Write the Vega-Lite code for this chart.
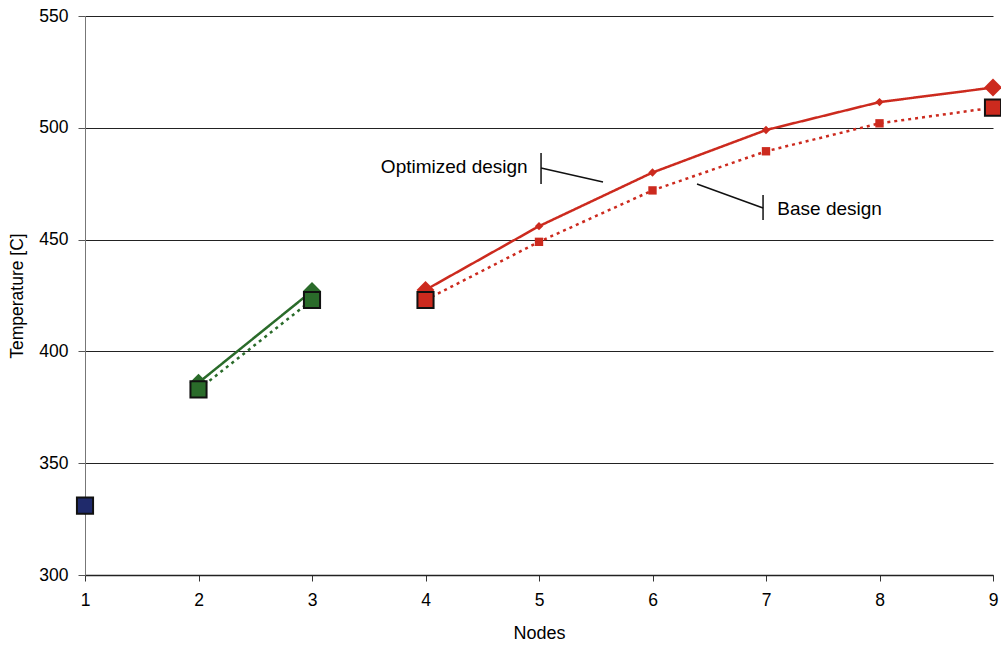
{
  "$schema": "https://vega.github.io/schema/vega-lite/v6.json",
  "autosize": "none",
  "width": 908,
  "height": 559,
  "padding": {"left": 85, "top": 16, "right": 8, "bottom": 79},
  "background": "white",
  "config": {
    "view": {"stroke": null},
    "font": "Liberation Sans",
    "axis": {"labelFont": "Liberation Sans", "titleFont": "Liberation Sans", "labelColor": "#000", "titleColor": "#000", "titleFontWeight": "normal"}
  },
  "datasets": {
    "temps": [
      {"node": 1, "temp": 331, "design": "Optimized", "segment": "A", "end": true},
      {"node": 1, "temp": 331, "design": "Base", "segment": "A", "end": true},
      {"node": 2, "temp": 386, "design": "Optimized", "segment": "B", "end": true},
      {"node": 2, "temp": 383, "design": "Base", "segment": "B", "end": true},
      {"node": 3, "temp": 427, "design": "Optimized", "segment": "B", "end": true},
      {"node": 3, "temp": 423, "design": "Base", "segment": "B", "end": true},
      {"node": 4, "temp": 427.5, "design": "Optimized", "segment": "C", "end": true},
      {"node": 4, "temp": 423, "design": "Base", "segment": "C", "end": true},
      {"node": 5, "temp": 456, "design": "Optimized", "segment": "C", "end": false},
      {"node": 5, "temp": 449, "design": "Base", "segment": "C", "end": false},
      {"node": 6, "temp": 480, "design": "Optimized", "segment": "C", "end": false},
      {"node": 6, "temp": 472, "design": "Base", "segment": "C", "end": false},
      {"node": 7, "temp": 499, "design": "Optimized", "segment": "C", "end": false},
      {"node": 7, "temp": 489.5, "design": "Base", "segment": "C", "end": false},
      {"node": 8, "temp": 511.5, "design": "Optimized", "segment": "C", "end": false},
      {"node": 8, "temp": 502, "design": "Base", "segment": "C", "end": false},
      {"node": 9, "temp": 518, "design": "Optimized", "segment": "C", "end": true},
      {"node": 9, "temp": 509, "design": "Base", "segment": "C", "end": true}
    ],
    "labels": [
      {"x": 4.9, "y": 482.5, "text": "Optimized design", "align": "right"},
      {"x": 7.1, "y": 463.7, "text": "Base design", "align": "left"}
    ],
    "leaders": [
      {"id": "o1", "x": 5.018, "y": 488.7},
      {"id": "o1", "x": 5.018, "y": 474.9},
      {"id": "o2", "x": 5.018, "y": 482},
      {"id": "o2", "x": 5.564, "y": 475.8},
      {"id": "b1", "x": 6.974, "y": 470},
      {"id": "b1", "x": 6.974, "y": 458.8},
      {"id": "b2", "x": 6.392, "y": 474.9},
      {"id": "b2", "x": 6.974, "y": 464.1}
    ]
  },
  "layer": [
    {
      "data": {"name": "temps"},
      "mark": {"type": "line", "strokeWidth": 2.5},
      "encoding": {
        "x": {"field": "node", "type": "quantitative", "scale": {"domain": [1, 9], "nice": false, "zero": false},
          "axis": {"values": [1,2,3,4,5,6,7,8,9], "format": "d", "title": "Nodes", "titleFontSize": 18, "titlePadding": 16, "labelFontSize": 17.5, "labelPadding": 10, "tickSize": 6, "tickColor": "#333", "domainColor": "#222", "domainWidth": 1.5, "grid": false, "labelFlush": false}},
        "y": {"field": "temp", "type": "quantitative", "scale": {"domain": [300, 550], "nice": false, "zero": false},
          "axis": {"values": [300,350,400,450,500,550], "format": "d", "title": "Temperature [C]", "titleFontSize": 17.5, "titlePadding": 12, "labelFontSize": 17.5, "labelPadding": 10, "tickSize": 7, "tickColor": "#555", "domainColor": "#777", "grid": true, "gridColor": "#222", "gridWidth": 1.2, "gridOpacity": 1}},
        "color": {"field": "segment", "type": "nominal", "scale": {"domain": ["A", "B", "C"], "range": ["#1f2a6b", "#2a6b2a", "#cc2a1e"]}, "legend": null},
        "detail": {"field": "segment"},
        "strokeDash": {"field": "design", "type": "nominal", "scale": {"domain": ["Optimized", "Base"], "range": [[1, 0], [3, 4]]}, "legend": null}
      }
    },
    {
      "data": {"name": "temps"},
      "transform": [{"filter": "datum.design == 'Optimized' && !datum.end"}],
      "mark": {"type": "point", "shape": "diamond", "filled": true, "size": 70, "opacity": 1},
      "encoding": {
        "x": {"field": "node", "type": "quantitative"},
        "y": {"field": "temp", "type": "quantitative"},
        "color": {"field": "segment", "type": "nominal", "legend": null}
      }
    },
    {
      "data": {"name": "temps"},
      "transform": [{"filter": "datum.design == 'Base' && !datum.end"}],
      "mark": {"type": "point", "shape": "square", "filled": true, "size": 70, "opacity": 1},
      "encoding": {
        "x": {"field": "node", "type": "quantitative"},
        "y": {"field": "temp", "type": "quantitative"},
        "color": {"field": "segment", "type": "nominal", "legend": null}
      }
    },
    {
      "data": {"name": "temps"},
      "transform": [{"filter": "datum.design == 'Optimized' && datum.end"}],
      "mark": {"type": "point", "shape": "diamond", "filled": true, "size": 320, "opacity": 1},
      "encoding": {
        "x": {"field": "node", "type": "quantitative"},
        "y": {"field": "temp", "type": "quantitative"},
        "color": {"field": "segment", "type": "nominal", "legend": null}
      }
    },
    {
      "data": {"name": "temps"},
      "transform": [{"filter": "datum.design == 'Base' && datum.end"}],
      "mark": {"type": "point", "shape": "square", "filled": true, "size": 260, "opacity": 1, "stroke": "#111", "strokeWidth": 2},
      "encoding": {
        "x": {"field": "node", "type": "quantitative"},
        "y": {"field": "temp", "type": "quantitative"},
        "fill": {"field": "segment", "type": "nominal", "scale": {"domain": ["A", "B", "C"], "range": ["#1f2a6b", "#2a6b2a", "#cc2a1e"]}, "legend": null}
      }
    },
    {
      "data": {"name": "leaders"},
      "mark": {"type": "line", "color": "#111", "strokeWidth": 1.5},
      "encoding": {
        "x": {"field": "x", "type": "quantitative"},
        "y": {"field": "y", "type": "quantitative"},
        "detail": {"field": "id"}
      }
    },
    {
      "data": {"name": "labels"},
      "transform": [{"filter": "datum.align == 'right'"}],
      "mark": {"type": "text", "align": "right", "baseline": "middle", "fontSize": 19, "font": "Liberation Sans", "color": "#000"},
      "encoding": {
        "x": {"field": "x", "type": "quantitative"},
        "y": {"field": "y", "type": "quantitative"},
        "text": {"field": "text"}
      }
    },
    {
      "data": {"name": "labels"},
      "transform": [{"filter": "datum.align == 'left'"}],
      "mark": {"type": "text", "align": "left", "baseline": "middle", "fontSize": 19, "font": "Liberation Sans", "color": "#000"},
      "encoding": {
        "x": {"field": "x", "type": "quantitative"},
        "y": {"field": "y", "type": "quantitative"},
        "text": {"field": "text"}
      }
    }
  ]
}
